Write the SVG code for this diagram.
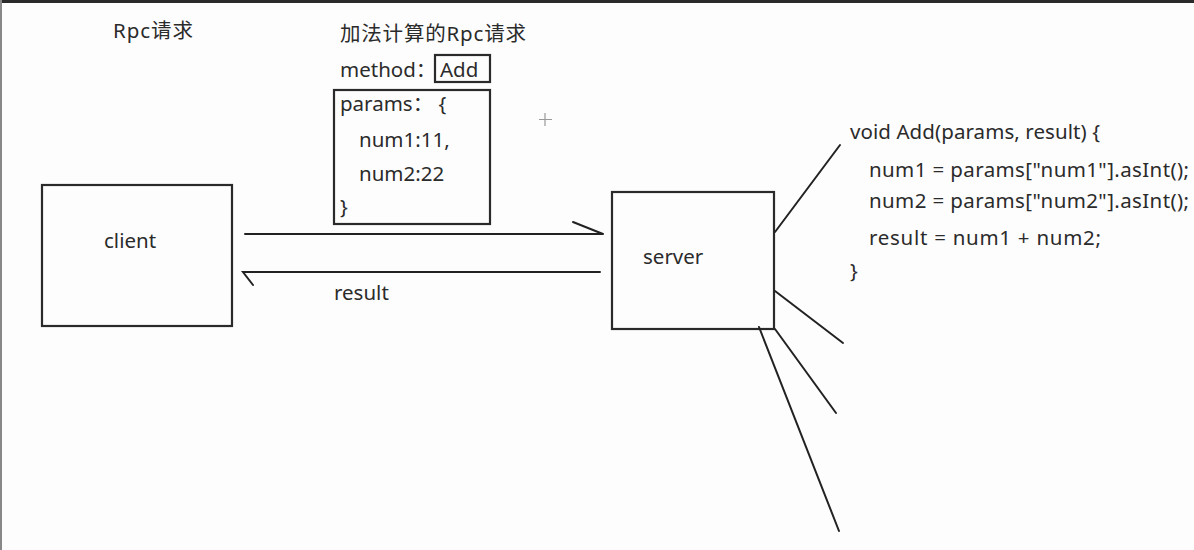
<svg xmlns="http://www.w3.org/2000/svg" width="1194" height="550" viewBox="0 0 1194 550">
<style>
text{font-family:"Noto Sans","Noto Sans CJK SC",sans-serif;fill:#2b2b2b;font-size:20.5px}
.cjk{font-size:20.5px}
.box{fill:none;stroke:#2a2a2a;stroke-width:2.2}
.ln{fill:none;stroke:#222;stroke-width:2;stroke-linecap:round}
</style>
<rect width="1194" height="550" fill="#fdfdfd"/>
<rect x="0" y="0" width="1194" height="3" fill="#2a2a2a"/>
<rect x="0" y="0" width="2" height="550" fill="#888"/>
<g id="title">
<text class="cjk" x="113" y="38" textLength="80" lengthAdjust="spacing">Rpc请求</text>
</g>
<g id="client">
<rect class="box" x="42" y="185" width="190" height="141"/>
<text x="104" y="248">client</text>
</g>
<g id="request">
<text class="cjk" x="340" y="41" textLength="186" lengthAdjust="spacing">加法计算的Rpc请求</text>
<text x="340" y="77">method：</text>
<rect class="box" x="435" y="55" width="55" height="27"/>
<text x="440" y="77">Add</text>
<rect class="box" x="334" y="90" width="156" height="134"/>
<text x="340" y="111">params：  {</text>
<text x="359" y="147">num1:11,</text>
<text x="359" y="181">num2:22</text>
<text x="340" y="214">}</text>
</g>
<g id="server">
<rect class="box" x="612" y="192" width="162" height="137"/>
<text x="643" y="264">server</text>
</g>
<g id="code">
<text x="850" y="139" textLength="250" lengthAdjust="spacing">void Add(params, result) {</text>
<text x="869" y="177" textLength="320" lengthAdjust="spacing">num1 = params["num1"].asInt();</text>
<text x="869" y="208" textLength="320" lengthAdjust="spacing">num2 = params["num2"].asInt();</text>
<text x="869" y="245" textLength="232" lengthAdjust="spacing">result = num1 + num2;</text>
<text x="850" y="278">}</text>
</g>
<g id="connectors">
<path class="ln" d="M245 234 H603 M573 222 L603 234"/>
<path class="ln" d="M600 272 H243 L253 285"/>
<text x="334" y="300">result</text>
<path class="ln" d="M775 232 L840 145"/>
<path class="ln" d="M775 291 L843 343"/>
<path class="ln" d="M775 329 L836 413"/>
<path class="ln" d="M759 327 L839 531"/>
<path d="M545 113 V126 M539 119.5 H552" stroke="#999" stroke-width="1.2"/>
</g>
</svg>
